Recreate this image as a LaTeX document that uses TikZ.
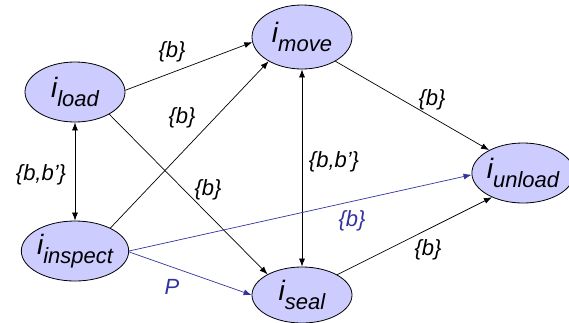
\documentclass[tikz,border=0pt]{standalone}
\usepackage{fontspec}
\setmainfont{Liberation Sans}
\usetikzlibrary{shapes.geometric,arrows.meta}
\definecolor{nodefill}{RGB}{204,204,255}
\definecolor{pblue}{RGB}{51,51,160}
\newcommand{\iname}[1]{{\fontsize{28}{28}\selectfont\itshape i}\raisebox{-9pt}{\fontsize{22}{22}\selectfont\itshape #1}}
\begin{document}
\begin{tikzpicture}[x=1pt,y=-1pt,
  state/.style={ellipse,draw=black,line width=0.8pt,fill=nodefill,inner sep=0pt,minimum width=100pt,minimum height=60pt},
  conn/.style={line width=0.7pt,-{Latex[length=8pt,width=6pt]}},
  biconn/.style={line width=0.7pt,{Latex[length=8pt,width=6pt]}-{Latex[length=8pt,width=6pt]}},
  bconn/.style={conn,draw=pblue},
  lab/.style={font=\fontsize{22}{22}\selectfont\itshape,inner sep=0pt},
  blab/.style={lab,text=pblue}]
\useasboundingbox (0,0) rectangle (569,322);
\node[state] (load) at (75,92) {\iname{load}};
\node[state,minimum height=64pt] (move) at (302,37) {\iname{move}};
\node[state] (inspect) at (75,251) {\iname{inspect}};
\node[state,minimum height=56pt] (seal) at (302,295) {\iname{seal}};
\node[state,minimum width=90pt] (unload) at (523,173) {\iname{unload}};

\draw[conn] (load.2) -- (move.186);
\draw[conn] (inspect.33) -- (move.216);
\draw[conn] (load.327) -- (seal.149);
\draw[biconn] (load.270) -- (inspect.90);
\draw[biconn] (move.270) -- (seal.90);
\draw[conn] (move.324) -- (unload.146);
\draw[bconn] (inspect.0) -- (unload.182);
\draw[bconn] (inspect.-1) -- (seal.180);
\draw[conn] (seal.30) -- (unload.218);

\node[lab] (l1) at (172,52) {\{b\}};
\node[lab] (l2) at (182,118) {\{b\}};
\node[lab] (l3) at (41,175) {\{b,b’\}};
\node[lab] (l4) at (208,190) {\{b\}};
\node[lab] (l5) at (334,162) {\{b,b’\}};
\node[lab] (l6) at (432,100) {\{b\}};
\node[blab] (l7) at (352,221) {\{b\}};
\node[lab] (l8) at (428,250) {\{b\}};
\node[blab] (l9) at (172,287) {P};
\end{tikzpicture}
\end{document}
